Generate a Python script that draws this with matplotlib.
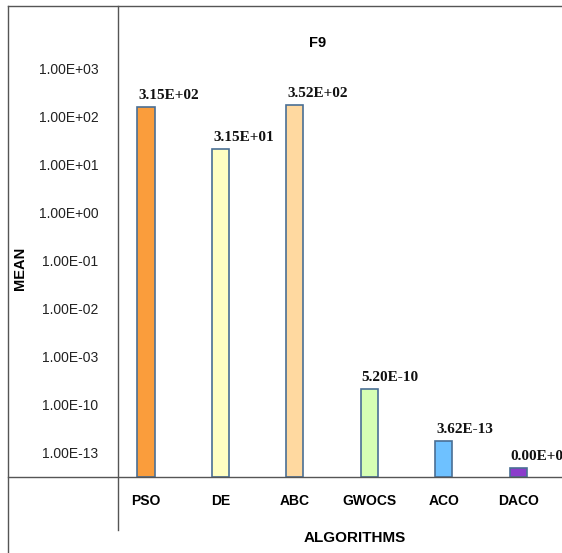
import matplotlib.pyplot as plt
from matplotlib.lines import Line2D

algorithms = ["PSO", "DE", "ABC", "GWOCS", "ACO", "DACO"]
heights = [7.71, 6.83, 7.75, 1.83, 0.75, 0.19]
value_labels = ["3.15E+02", "3.15E+01", "3.52E+02", "5.20E-10", "3.62E-13", "0.00E+00"]
tick_labels = ["1.00E-13", "1.00E-10", "1.00E-03", "1.00E-02", "1.00E-01",
               "1.00E+00", "1.00E+01", "1.00E+02", "1.00E+03"]
colors = ["#FA9D3C", "#FFFFC2", "#FFD9A0", "#D6FFB4", "#6EC1FF", "#8B3CCB"]

W, H = 562, 553
fig = plt.figure(figsize=(W / 100, H / 100), dpi=100)
fig.patch.set_facecolor("white")
ax = fig.add_axes([118 / W, (H - 477) / H, (W - 118) / W, 471 / H])

x = list(range(len(algorithms)))
ax.bar(x, heights, width=0.23, color=colors, edgecolor="#4A6F95", linewidth=1.2, zorder=3)

for xi, h, lab in zip(x, heights, value_labels):
    ax.text(xi - 0.1, h + 0.1, lab, ha="left", va="bottom",
            family="Liberation Serif", fontweight="bold", fontsize=11, color="#111111",
            clip_on=False)

ax.set_xlim(-0.376, 5.59)
ax.set_ylim(0, 9.81)
ax.set_yticks([i + 0.5 for i in range(len(tick_labels))])
ax.set_yticklabels(tick_labels, family="Liberation Sans", fontsize=10, color="#222222")
ax.set_xticks(x)
ax.set_xticklabels(algorithms, family="Liberation Sans", fontweight="bold", fontsize=10)
ax.tick_params(axis="y", length=0, pad=14)
ax.tick_params(axis="x", length=0, pad=12)
for s in ax.spines.values():
    s.set_visible(False)

fig.text(318 / W, 1 - 43 / H, "F9", ha="center", va="center",
         family="Liberation Sans", fontweight="bold", fontsize=10.5)
fig.text(355 / W, 1 - 538 / H, "ALGORITHMS", ha="center", va="center",
         family="Liberation Sans", fontweight="bold", fontsize=11)
fig.text(20 / W, 1 - 268 / H, "MEAN", ha="center", va="center", rotation=90,
         family="Liberation Sans", fontweight="bold", fontsize=10.5)

lc = "#555555"
# outer frame and axis lines
fig.add_artist(Line2D([8 / W, 1], [1 - 6 / H, 1 - 6 / H], color=lc, lw=1))
fig.add_artist(Line2D([8 / W, 8 / W], [0, 1 - 6 / H], color=lc, lw=1))
fig.add_artist(Line2D([118 / W, 118 / W], [1 - 530 / H, 1 - 6 / H], color=lc, lw=1))
fig.add_artist(Line2D([8 / W, 1], [1 - 477 / H, 1 - 477 / H], color=lc, lw=1))

fig.savefig("out.png", dpi=100)
